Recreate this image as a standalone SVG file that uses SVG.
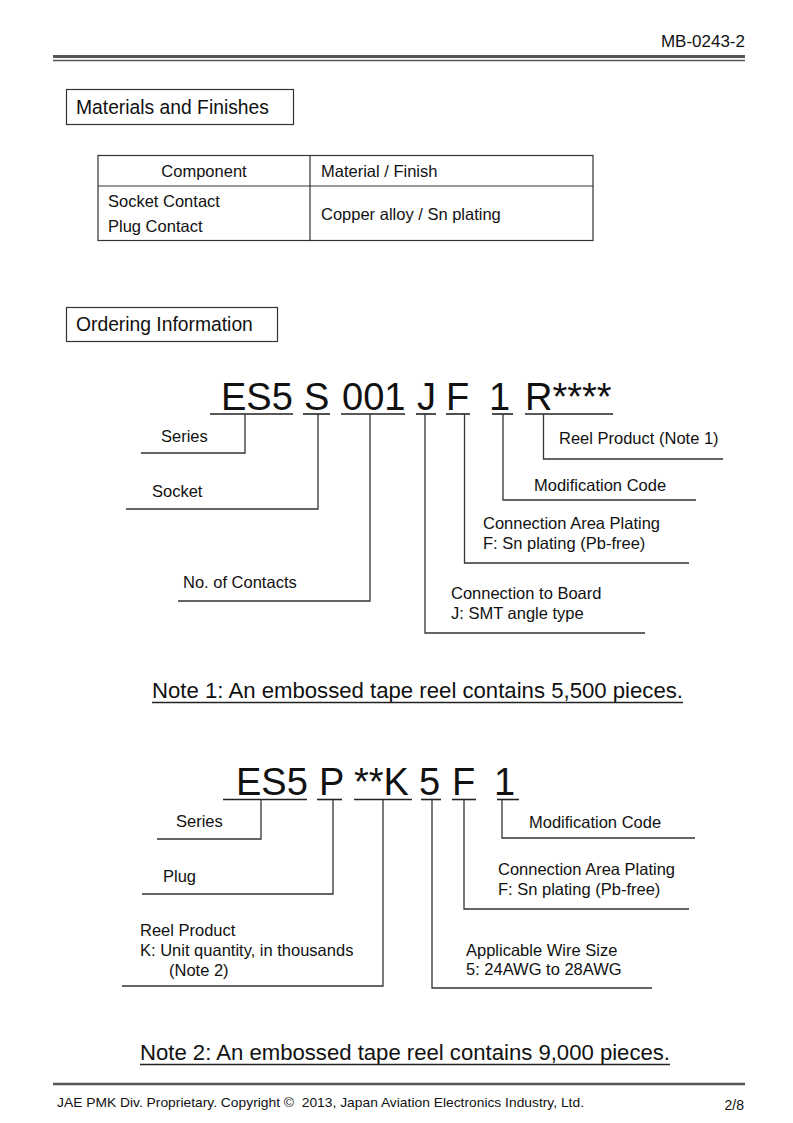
<svg xmlns="http://www.w3.org/2000/svg" width="793" height="1123" viewBox="0 0 793 1123">
<style>
text{font-family:"Liberation Sans",Arial,sans-serif;fill:#111}
.lbl{font-size:16.5px}
.big{font-size:38px}
.note{font-size:22px}
.hd{font-size:19.3px}
.c{fill:none;stroke:#333;stroke-width:1.3}
.u{stroke:#222;stroke-width:1.6}
.t{fill:none;stroke:#333;stroke-width:1.2}
</style>
<rect width="793" height="1123" fill="#fff"/>
<g id="header">
<text x="745" y="47" font-size="17" text-anchor="end">MB-0243-2</text>
<line x1="53" y1="56.5" x2="745" y2="56.5" stroke="#555" stroke-width="3"/>
<line x1="53" y1="60.5" x2="745" y2="60.5" stroke="#555" stroke-width="1.5"/>
</g>
<g id="materials-title">
<rect x="66.5" y="89.5" width="227" height="35" class="t"/>
<text x="76" y="114" class="hd">Materials and Finishes</text>
</g>
<g id="materials-table">
<rect x="98" y="155.5" width="495" height="85" class="t"/>
<line x1="98" y1="186" x2="593" y2="186" class="t"/>
<line x1="310" y1="155.5" x2="310" y2="240.5" class="t"/>
<text x="204" y="177" class="lbl" text-anchor="middle">Component</text>
<text x="321" y="177" class="lbl">Material / Finish</text>
<text x="108" y="207" class="lbl">Socket Contact</text>
<text x="108" y="232" class="lbl">Plug Contact</text>
<text x="321" y="220" class="lbl">Copper alloy / Sn plating</text>
</g>
<g id="ordering-title">
<rect x="66.5" y="307.5" width="211" height="34" class="t"/>
<text x="76" y="331" class="hd">Ordering Information</text>
</g>
<g id="socket-code">
<text x="221" y="409.5" class="big">ES5</text>
<text x="304" y="409.5" class="big">S</text>
<text x="342" y="409.5" class="big">001</text>
<text x="417" y="409.5" class="big">J</text>
<text x="446" y="409.5" class="big">F</text>
<text x="489" y="409.5" class="big">1</text>
<text x="525" y="409.5" class="big">R****</text>
<line x1="210" y1="414" x2="293" y2="414" class="u"/>
<line x1="303" y1="414" x2="330" y2="414" class="u"/>
<line x1="341" y1="414" x2="405" y2="414" class="u"/>
<line x1="416" y1="414" x2="436" y2="414" class="u"/>
<line x1="446" y1="414" x2="470" y2="414" class="u"/>
<line x1="492" y1="414" x2="513" y2="414" class="u"/>
<line x1="525" y1="414" x2="613" y2="414" class="u"/>
</g>
<g id="socket-labels">
<text x="161" y="442" class="lbl">Series</text>
<text x="152" y="497" class="lbl">Socket</text>
<text x="183" y="588" class="lbl">No. of Contacts</text>
<text x="451" y="599" class="lbl">Connection to Board</text>
<text x="451" y="619" class="lbl">J: SMT angle type</text>
<text x="483" y="529" class="lbl">Connection Area Plating</text>
<text x="483" y="549" class="lbl">F: Sn plating (Pb-free)</text>
<text x="534" y="491" class="lbl">Modification Code</text>
<text x="559" y="444" class="lbl">Reel Product (Note 1)</text>
</g>
<g id="socket-connectors">
<polyline points="245,414 245,453 141,453" class="c"/>
<polyline points="318,414 318,509 126,509" class="c"/>
<polyline points="370,414 370,601 178,601" class="c"/>
<polyline points="425,414 425,633 645,633" class="c"/>
<polyline points="464.5,414 464.5,563 689,563" class="c"/>
<polyline points="503,414 503,500 696,500" class="c"/>
<polyline points="543.5,414 543.5,459 723,459" class="c"/>
</g>
<g id="note1">
<text x="152" y="698" class="note" textLength="531" lengthAdjust="spacingAndGlyphs">Note 1: An embossed tape reel contains 5,500 pieces.</text>
<line x1="152" y1="702.5" x2="683" y2="702.5" stroke="#222" stroke-width="1.5"/>
</g>
<g id="plug-code">
<text x="236" y="795" class="big">ES5</text>
<text x="319" y="795" class="big">P</text>
<text x="354" y="795" class="big">**K</text>
<text x="419" y="795" class="big">5</text>
<text x="452" y="795" class="big">F</text>
<text x="494" y="795" class="big">1</text>
<line x1="223" y1="799.5" x2="307" y2="799.5" class="u"/>
<line x1="317" y1="799.5" x2="342" y2="799.5" class="u"/>
<line x1="354" y1="799.5" x2="412" y2="799.5" class="u"/>
<line x1="421" y1="799.5" x2="441" y2="799.5" class="u"/>
<line x1="452" y1="799.5" x2="476" y2="799.5" class="u"/>
<line x1="497" y1="799.5" x2="519" y2="799.5" class="u"/>
</g>
<g id="plug-labels">
<text x="176" y="827" class="lbl">Series</text>
<text x="163" y="882" class="lbl">Plug</text>
<text x="140" y="936" class="lbl">Reel Product</text>
<text x="140" y="956" class="lbl">K: Unit quantity, in thousands</text>
<text x="169" y="976" class="lbl">(Note 2)</text>
<text x="466" y="956" class="lbl">Applicable Wire Size</text>
<text x="466" y="975" class="lbl">5: 24AWG to 28AWG</text>
<text x="498" y="875" class="lbl">Connection Area Plating</text>
<text x="498" y="895" class="lbl">F: Sn plating (Pb-free)</text>
<text x="529" y="828" class="lbl">Modification Code</text>
</g>
<g id="plug-connectors">
<polyline points="261,800 261,839 157,839" class="c"/>
<polyline points="333,800 333,894 142,894" class="c"/>
<polyline points="383,800 383,986 122,986" class="c"/>
<polyline points="432,800 432,988 652,988" class="c"/>
<polyline points="464,800 464,909 689,909" class="c"/>
<polyline points="502,800 502,838 695,838" class="c"/>
</g>
<g id="note2">
<text x="140" y="1060" class="note" textLength="530" lengthAdjust="spacingAndGlyphs">Note 2: An embossed tape reel contains 9,000 pieces.</text>
<line x1="140" y1="1064.5" x2="670" y2="1064.5" stroke="#222" stroke-width="1.5"/>
</g>
<g id="footer">
<line x1="53" y1="1084" x2="745" y2="1084" stroke="#555" stroke-width="2.5"/>
<text x="57" y="1107" font-size="13.5" textLength="527" lengthAdjust="spacingAndGlyphs">JAE PMK Div. Proprietary. Copyright ©&#160; 2013, Japan Aviation Electronics Industry, Ltd.</text>
<text x="744" y="1110" font-size="14" text-anchor="end">2/8</text>
</g>
</svg>
